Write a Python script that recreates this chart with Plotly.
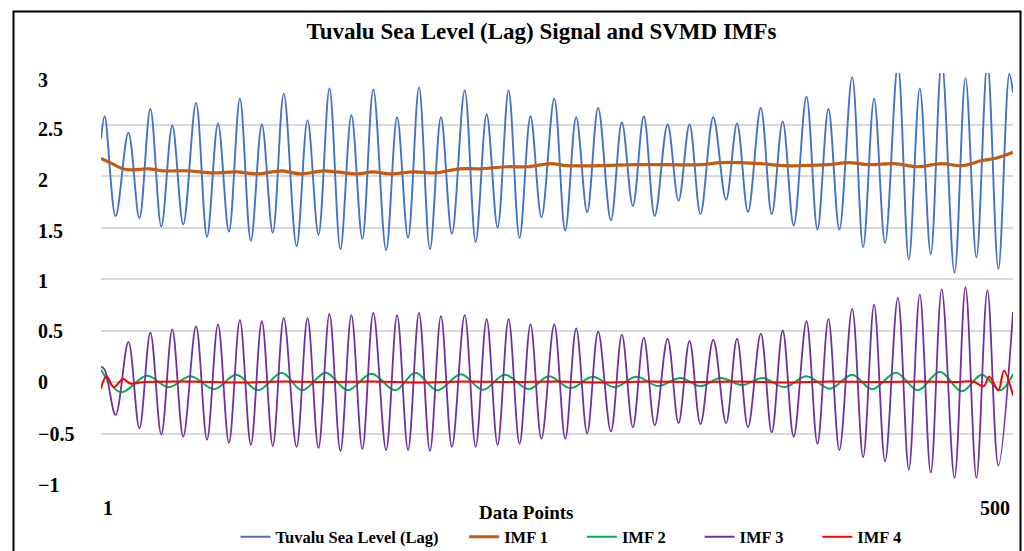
import plotly.graph_objects as go

# ---------------- data ----------------
# Tuvalu Sea Level (Lag): start, alternating peaks/troughs, end
sig_x = [1, 3, 9, 16, 22, 28, 34, 40, 46, 53,
         59, 65, 71, 77, 83, 89, 95, 101, 108, 114,
         120, 126, 132, 138, 144, 150, 157, 163, 169, 175,
         181, 187, 193, 200, 206, 212, 218, 224, 230, 236,
         242, 249, 255, 261, 267, 273, 280, 286, 292, 298,
         304, 311, 317, 323, 329, 336, 343, 349, 355, 362,
         368, 374, 380, 387, 393, 399, 405, 412, 418, 424,
         430, 437, 443, 449, 455, 461, 468, 474, 480, 486,
         492, 498, 500]
sig_y = [2.36,
         2.58, 1.61, 2.42, 1.59, 2.65, 1.51, 2.49, 1.53, 2.71, 1.41,
         2.51, 1.46, 2.75, 1.37, 2.50, 1.45, 2.80, 1.32, 2.54, 1.43,
         2.85, 1.29, 2.59, 1.39, 2.84, 1.28, 2.57, 1.40, 2.86, 1.29,
         2.57, 1.44, 2.83, 1.36, 2.60, 1.50, 2.83, 1.40, 2.58, 1.60,
         2.75, 1.47, 2.57, 1.65, 2.66, 1.57, 2.52, 1.71, 2.58, 1.61,
         2.50, 1.76, 2.50, 1.63, 2.57, 1.77, 2.51, 1.65, 2.66, 1.63,
         2.53, 1.52, 2.77, 1.48, 2.65, 1.48, 2.96, 1.31, 2.75, 1.35,
         3.08, 1.19, 2.85, 1.24, 3.12, 1.06, 2.95, 1.21, 3.10, 1.10,
         2.99, 2.81]

# IMF 1 (trend)
imf1_x = [1, 6, 13, 18, 27, 35, 49, 62, 75, 86, 100, 110, 123, 141, 150, 159,
          172, 184, 197, 208, 223, 235, 247, 256, 274, 292, 311, 329, 340, 351,
          362, 375, 384, 399, 410, 421, 435, 448, 461, 472, 483, 490, 500]
imf1_y = [2.17, 2.13, 2.07, 2.06, 2.07, 2.05, 2.05, 2.03, 2.04, 2.02, 2.05, 2.02,
          2.05, 2.02, 2.04, 2.02, 2.04, 2.03, 2.07, 2.07, 2.09, 2.09, 2.12, 2.10,
          2.10, 2.11, 2.11, 2.11, 2.13, 2.13, 2.12, 2.10, 2.10, 2.11, 2.13, 2.11,
          2.12, 2.09, 2.12, 2.10, 2.15, 2.17, 2.23]

# IMF 2
imf2_x = [1, 12, 26, 38, 50, 63, 75, 87, 100, 111,
          124, 136, 149, 162, 173, 185, 198, 210, 222, 235,
          246, 258, 270, 282, 294, 306, 318, 329, 340, 352,
          363, 375, 387, 400, 412, 423, 436, 448, 460, 472,
          483, 493, 500]
imf2_y = [0.12, -0.10, 0.06, -0.05, 0.055, -0.07, 0.07, -0.08, 0.09, -0.08,
          0.09, -0.08, 0.08, -0.08, 0.09, -0.08, 0.075, -0.075, 0.07, -0.07,
          0.055, -0.06, 0.05, -0.05, 0.05, -0.04, 0.04, -0.04, 0.04, -0.03,
          0.04, -0.05, 0.055, -0.065, 0.07, -0.07, 0.09, -0.08, 0.10, -0.09,
          0.07, -0.08, 0.075]

# IMF 3
imf3_x = [1, 3, 9, 16, 22, 28, 34, 40, 46, 53,
          59, 65, 71, 77, 83, 89, 95, 101, 108, 114,
          120, 126, 132, 138, 144, 150, 157, 163, 169, 175,
          181, 187, 193, 200, 206, 212, 218, 224, 230, 236,
          242, 249, 255, 261, 267, 273, 280, 286, 292, 298,
          304, 311, 317, 323, 329, 336, 343, 349, 355, 362,
          368, 374, 380, 387, 393, 399, 405, 412, 418, 424,
          430, 437, 443, 449, 455, 461, 468, 474, 480, 486,
          492, 500]
imf3_y = [0.15, 0.12,
          -0.32, 0.39, -0.45, 0.48, -0.51, 0.51, -0.53, 0.54, -0.56, 0.56,
          -0.59, 0.60, -0.61, 0.59, -0.62, 0.62, -0.63, 0.62, -0.64, 0.66,
          -0.67, 0.65, -0.65, 0.67, -0.66, 0.65, -0.66, 0.67, -0.67, 0.64,
          -0.63, 0.65, -0.63, 0.61, -0.61, 0.61, -0.60, 0.56, -0.55, 0.56,
          -0.55, 0.52, -0.50, 0.49, -0.48, 0.46, -0.44, 0.43, -0.42, 0.42,
          -0.40, 0.40, -0.41, 0.41, -0.40, 0.42, -0.44, 0.47, -0.49, 0.50,
          -0.53, 0.59, -0.60, 0.61, -0.66, 0.71, -0.73, 0.75, -0.77, 0.82,
          -0.85, 0.85, -0.88, 0.90, -0.93, 0.92, -0.93, 0.89, -0.81,
          0.68]

# IMF 4
imf4_x = [1, 4, 8, 13, 17, 25, 50, 75, 100, 125, 150, 175, 200, 225, 250,
          275, 300, 325, 350, 375, 400, 425, 450, 470, 478, 484, 487, 492, 495, 500]
imf4_y = [-0.065, 0.055, -0.05, 0.03, -0.015, 0.0, 0.005, -0.005, 0.005, 0.0,
          0.005, -0.005, 0.005, 0.0, 0.005, -0.005, 0.005, 0.0, 0.005, -0.005,
          0.005, 0.0, 0.005, 0.0, 0.005, -0.04, 0.05, -0.08, 0.11, -0.13]

series_names = ["Tuvalu Sea Level (Lag)", "IMF 1", "IMF 2", "IMF 3", "IMF 4"]
y_ticks = [3, 2.5, 2, 1.5, 1, 0.5, 0, -0.5, -1]
y_tick_text = ["3", "2.5", "2", "1.5", "1", "0.5", "0", "\u22120.5", "\u22121"]
x_ticks = [1, 500]

title_text = "Tuvalu Sea Level (Lag) Signal and SVMD IMFs"
x_title = "Data Points"

# ---------------- figure ----------------
FONT = "Liberation Serif"
colors = ["#4472C4", "#C55A11", "#00B050", "#7030A0", "#FF0000"]
widths = [1.9, 3.2, 2.0, 1.8, 2.0]
pads = [5, 7, 7, 7, 0]   # trailing spacing after legend labels
label_shift = [-7, -4, -4, -3, -2, 0, 0, 0, 0]  # y-label offsets below gridlines
xs = [sig_x, imf1_x, imf2_x, imf3_x, imf4_x]
ys = [sig_y, imf1_y, imf2_y, imf3_y, imf4_y]

fig = go.Figure()
for name, x, y, c, w, p in zip(series_names, xs, ys, colors, widths, pads):
    fig.add_trace(go.Scatter(
        x=x, y=y, mode="lines", name="<b>%s</b>" % name + "\u00a0" * p,
        line=dict(color=c, width=w, shape="spline", smoothing=1.0),
    ))

W, H = 1024, 551
ml, mr, mt, mb = 101, 11, 73, 66
pw = W - ml - mr
ph = H - mt - mb


def px_to_paper_x(px):
    return (px - ml) / pw


def py_to_paper_y(py):
    return (H - mb - py) / ph


annotations = []
for v, t, s in zip(y_ticks, y_tick_text, label_shift):
    annotations.append(dict(
        x=px_to_paper_x(36), xref="paper", y=v, yref="y", yshift=s,
        text="<b>%s</b>" % t, showarrow=False, xanchor="left", yanchor="middle",
        font=dict(family=FONT, size=20, color="#000000"),
    ))
annotations.append(dict(
    x=x_ticks[0], xref="x", y=py_to_paper_y(508), yref="paper",
    text="<b>%d</b>" % x_ticks[0], showarrow=False, xanchor="left", yanchor="middle",
    xshift=0, font=dict(family=FONT, size=20, color="#000000"),
))
annotations.append(dict(
    x=x_ticks[1], xref="x", y=py_to_paper_y(508), yref="paper",
    text="<b>%d</b>" % x_ticks[1], showarrow=False, xanchor="right", yanchor="middle",
    xshift=-1, font=dict(family=FONT, size=20, color="#000000"),
))
annotations.append(dict(
    x=px_to_paper_x(526), xref="paper", y=py_to_paper_y(512), yref="paper",
    text="<b>%s</b>" % x_title, showarrow=False, xanchor="center", yanchor="middle",
    font=dict(family=FONT, size=19, color="#000000"),
))

fig.update_layout(
    width=W, height=H,
    margin=dict(l=ml, r=mr, t=mt, b=mb, pad=0, autoexpand=False),
    paper_bgcolor="white", plot_bgcolor="white",
    title=dict(
        text="<b>%s</b>" % title_text,
        x=px_to_paper_x(541.5), xref="paper", xanchor="center",
        y=1 - 31 / H, yref="container", yanchor="middle",
        font=dict(family=FONT, size=23, color="#000000"),
    ),
    xaxis=dict(range=[1, 500], showgrid=False, zeroline=False, showticklabels=False,
               ticks="", showline=False),
    yaxis=dict(range=[-1, 3], tickvals=y_ticks, showticklabels=False, ticks="",
               showgrid=True, gridcolor="#D9D9D9", gridwidth=1.5,
               zeroline=False, showline=False),
    legend=dict(
        orientation="h", x=px_to_paper_x(571), xanchor="center",
        y=py_to_paper_y(537), yanchor="middle",
        font=dict(family=FONT, size=16.5, color="#000000"),
        bgcolor="rgba(0,0,0,0)", itemwidth=30,
    ),
    annotations=annotations,
    shapes=[dict(
        type="rect", xref="paper", yref="paper",
        x0=px_to_paper_x(13.5), x1=px_to_paper_x(1020.5),
        y0=py_to_paper_y(570), y1=py_to_paper_y(11.5),
        line=dict(color="#000000", width=2), fillcolor="rgba(0,0,0,0)", layer="above",
    )],
    showlegend=True,
)

fig.write_html("out.html")
